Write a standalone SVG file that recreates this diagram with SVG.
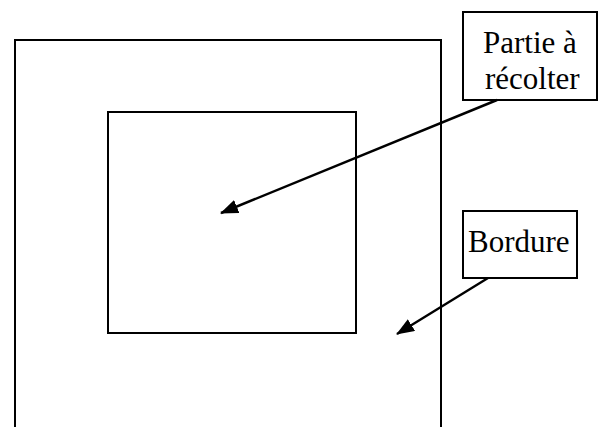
<svg xmlns="http://www.w3.org/2000/svg" width="600" height="427" viewBox="0 0 600 427">
<style>
.ln{fill:none;stroke:#000;stroke-width:2}
.bx{fill:#fff;stroke:#000;stroke-width:2}
.t{font-family:"Liberation Serif","Times New Roman",serif;font-size:31px;fill:#000}
.ar{stroke:#000;stroke-width:2.5;fill:none;marker-end:url(#ah)}
</style>
<defs>
<marker id="ah" markerWidth="18" markerHeight="14" refX="17" refY="7" orient="auto" markerUnits="userSpaceOnUse" viewBox="0 0 18 14">
<path d="M0,0 L18,7 L0,14 z" fill="#000"/>
</marker>
</defs>
<rect width="600" height="427" fill="#fff"/>
<g id="bordure-zone">
<path class="ln" d="M15,427 V40 H441 V427"/>
</g>
<g id="partie-zone">
<rect class="ln" x="108" y="112" width="248" height="221"/>
</g>
<g id="label-partie">
<rect class="bx" x="463" y="12" width="134" height="88"/>
<text class="t" x="483" y="53">Partie à</text>
<text class="t" x="485" y="89">récolter</text>
</g>
<g id="label-bordure">
<rect class="bx" x="463" y="211" width="114" height="67"/>
<text class="t" x="468" y="252">Bordure</text>
</g>
<g id="connectors">
<line class="ar" x1="497" y1="100" x2="221" y2="213"/>
<line class="ar" x1="488" y1="278" x2="397" y2="334"/>
</g>
</svg>
